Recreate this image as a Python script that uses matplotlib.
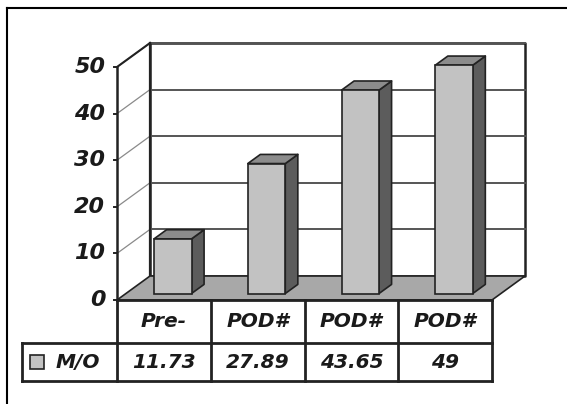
import matplotlib.pyplot as plt
import numpy as np
from matplotlib.patches import Polygon, Rectangle
from matplotlib.lines import Line2D

categories = ["Pre-", "POD#", "POD#", "POD#"]
values = [11.73, 27.89, 43.65, 49]
value_labels = ["11.73", "27.89", "43.65", "49"]
series_name = "M/O"
yticks = [0, 10, 20, 30, 40, 50]

# pseudo-3d depth offset (category units, value units)
dx, dy = 0.352, 5.15
bar_w = 0.4
bar_gap = 0.3
bar_z0 = 0.27
bar_depth = 0.38

front_col = "#c2c2c2"
side_col = "#5c5c5c"
top_col = "#8c8c8c"
floor_col = "#a8a8a8"
edge = "#222222"

font = dict(family="DejaVu Sans", style="italic", weight="bold")

fig = plt.figure(figsize=(5.67, 4.04), dpi=100)
ax = fig.add_axes([117 / 567, 104 / 404, 375 / 567, 233 / 404])
ax.set_xlim(0, len(categories))
ax.set_ylim(0, 50)
ax.axis("off")

n = len(categories)
ymax = yticks[-1]


def poly(pts, fc, ec=edge, lw=1.2, z=1):
    ax.add_patch(Polygon(pts, closed=True, facecolor=fc, edgecolor=ec,
                         lw=lw, zorder=z, clip_on=False, joinstyle="round"))


def line(xs, ys, c=edge, lw=1.5, z=2):
    ax.add_line(Line2D(xs, ys, color=c, lw=lw, zorder=z, clip_on=False))


# back wall and left wall
poly([(dx, dy), (n + dx, dy), (n + dx, ymax + dy), (dx, ymax + dy)], "white", lw=1.8)
poly([(0, 0), (dx, dy), (dx, ymax + dy), (0, ymax)], "white", ec="none")

for v in yticks[1:]:
    line([dx, n + dx], [v + dy, v + dy], c="#555555", lw=1.4)
    line([0, dx], [v, v + dy], c="#8a8a8a", lw=0.9)

line([0, dx], [ymax, ymax + dy], c=edge, lw=1.5)
line([dx, dx], [dy, ymax + dy], c=edge, lw=1.6, z=3)

# floor
poly([(0, 0), (n, 0), (n + dx, dy), (dx, dy)], floor_col, lw=1.2, z=3)

# front value axis with ticks and labels
line([0, 0], [0, ymax], c=edge, lw=1.8, z=4)
for v in yticks:
    line([-0.035, 0], [v, v], c=edge, lw=1.4, z=4)
    ax.text(-0.125, v, str(v), ha="right", va="center", fontsize=16,
            color="#1a1a1a", zorder=5, **font)

# bars
for i, v in enumerate(values):
    x0 = i + bar_gap + bar_z0 * dx
    y0 = bar_z0 * dy
    ox, oy = bar_depth * dx, bar_depth * dy
    poly([(x0 + bar_w, y0), (x0 + bar_w + ox, y0 + oy),
          (x0 + bar_w + ox, y0 + v + oy), (x0 + bar_w, y0 + v)], side_col, z=6)
    poly([(x0, y0 + v), (x0 + bar_w, y0 + v),
          (x0 + bar_w + ox, y0 + v + oy), (x0 + ox, y0 + v + oy)], top_col, z=6)
    ax.add_patch(Rectangle((x0, y0), bar_w, v, facecolor=front_col,
                           edgecolor=edge, lw=1.2, zorder=7, clip_on=False))

# data table below the plot
row1 = -43 / 4.66
row2 = -81 / 4.66
left = -95 / 93.75
line([0, n], [0, 0], lw=2.0, z=8)
line([left, n], [row1, row1], lw=2.0, z=8)
line([left, n], [row2, row2], lw=2.0, z=8)
line([left, left], [row1, row2], lw=2.0, z=8)
for i in range(n + 1):
    line([i, i], [0, row2], lw=2.0, z=8)

for i, (cat, lab) in enumerate(zip(categories, value_labels)):
    ax.text(i + 0.5, row1 / 2, cat, ha="center", va="center", fontsize=14.5,
            color="#1a1a1a", **font)
    ax.text(i + 0.5, (row1 + row2) / 2, lab, ha="center", va="center",
            fontsize=14.5, color="#1a1a1a", **font)

# legend key in the table
ax.add_patch(Rectangle((left + 0.085, (row1 + row2) / 2 - 1.6), 0.155, 3.2,
                       facecolor=front_col, edgecolor=edge, lw=1.2,
                       zorder=9, clip_on=False))
ax.text(left + 0.6, (row1 + row2) / 2, series_name, ha="center", va="center",
        fontsize=14.5, color="#1a1a1a", **font)

# outer frame (top and left edges)
fig.add_artist(Line2D([7 / 567, 1], [1 - 8 / 404, 1 - 8 / 404], color="black",
                      lw=1.5, transform=fig.transFigure))
fig.add_artist(Line2D([7 / 567, 7 / 567], [0, 1 - 8 / 404], color="black",
                      lw=1.5, transform=fig.transFigure))

fig.savefig("out.png", dpi=100)
